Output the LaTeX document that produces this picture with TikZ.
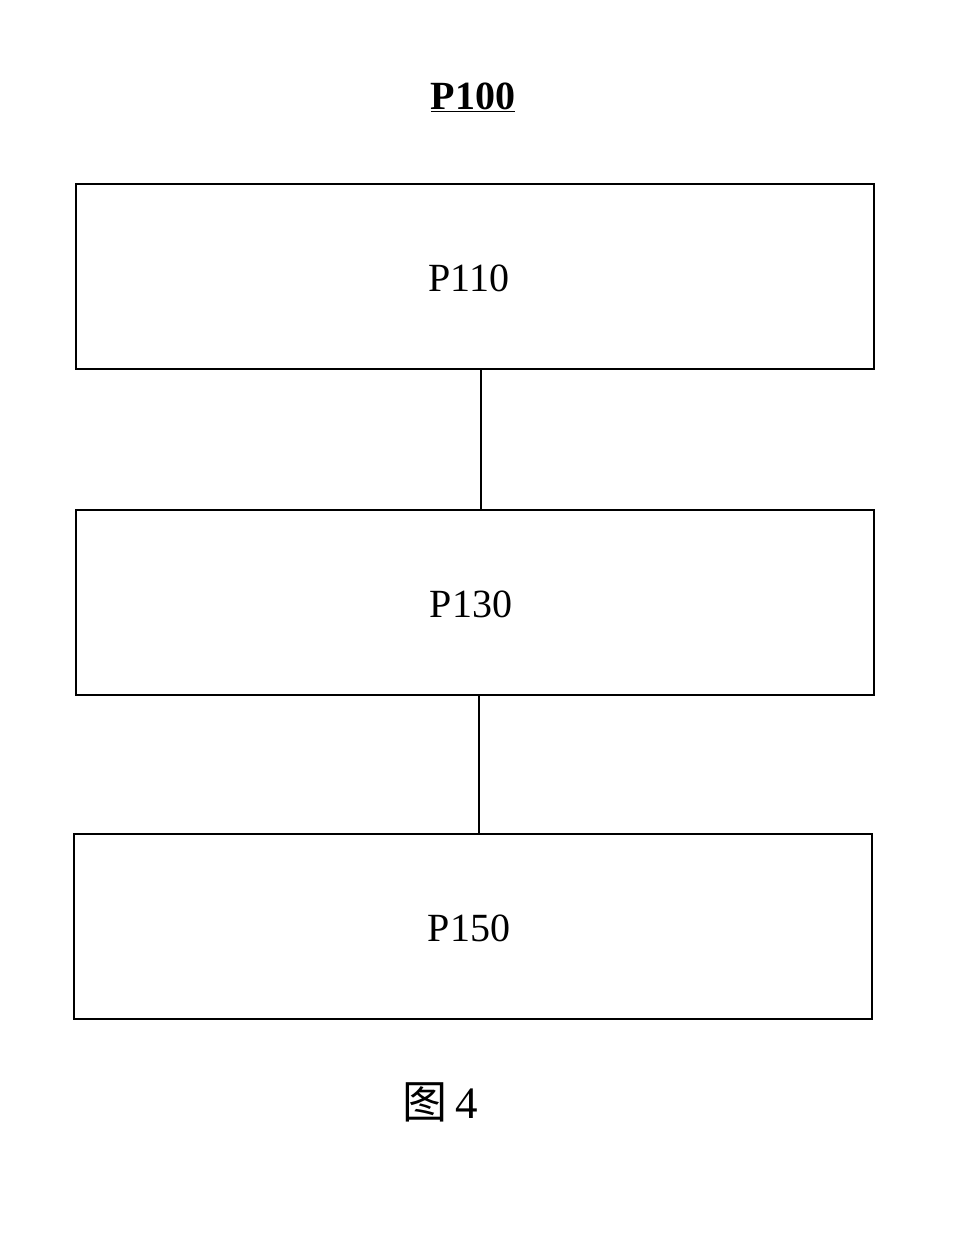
\documentclass[tikz,border=0pt]{standalone}
\usepackage{fontspec}
\setmainfont{Liberation Serif}
\newfontfamily\cjk{Noto Sans CJK SC}
\begin{document}
\begin{tikzpicture}[x=1pt,y=-1pt,
  boxstyle/.style={draw=black,line width=2pt,minimum width=798pt,minimum height=185pt,inner sep=0pt,anchor=north west},
  lbl/.style={font=\fontsize{40}{40}\selectfont},
  conn/.style={draw=black,line width=1.5pt}]
\useasboundingbox (0,0) rectangle (974,1240);
\node[font=\fontsize{40}{40}\selectfont\bfseries] (title) at (473,97) {\underline{P100}};
\node[boxstyle] (b1) at (75,183) {};
\node[boxstyle] (b2) at (75,509) {};
\node[boxstyle] (b3) at (73,833) {};
\node[lbl] (t1) at (469,278) {P110};
\node[lbl] (t2) at (471,604) {P130};
\node[lbl] (t3) at (469,928) {P150};
\draw[conn] ([xshift=6pt]b1.south) -- ([xshift=6pt]b2.north);
\draw[conn] ([xshift=4pt]b2.south) -- ([xshift=6pt]b3.north);
\node[font=\fontsize{45}{45}\selectfont] (fig) at (440,1102) {{\cjk 图}\,4};
\end{tikzpicture}
\end{document}
